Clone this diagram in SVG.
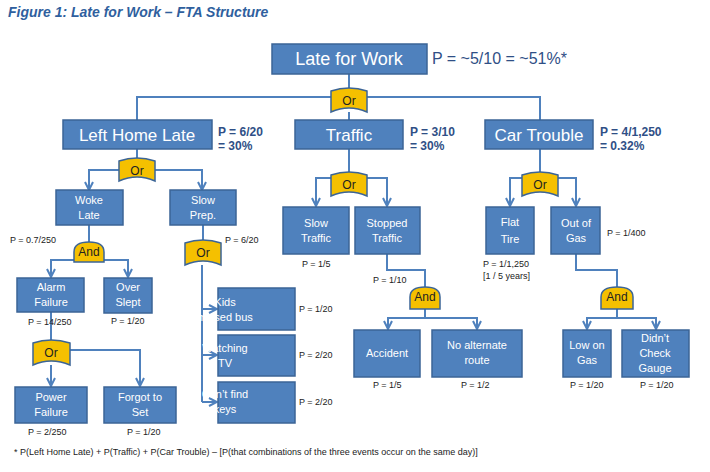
<svg xmlns="http://www.w3.org/2000/svg" width="710" height="472" viewBox="0 0 710 472">
<style>
.b{fill:#4f81bd;stroke:#3b6496;stroke-width:1.5}
.t{fill:#fff;font-family:"Liberation Sans",Arial,sans-serif;text-anchor:middle}
.g{fill:#f5c000;stroke:#3b6496;stroke-width:1.5}
.gt{fill:#222;font-family:"Liberation Sans",Arial,sans-serif;font-size:12px;text-anchor:middle}
.p{fill:#222;font-family:"Liberation Sans",Arial,sans-serif;font-size:9px}
.pb{fill:#2f4f86;font-family:"Liberation Sans",Arial,sans-serif;font-size:12px;font-weight:bold}
.c{fill:none;stroke:#4f81bd;stroke-width:2}
</style>
<defs><marker id="a" viewBox="0 0 10 10" refX="9" refY="5" markerWidth="5" markerHeight="5" orient="auto"><path d="M1,1 L9,5 L1,9" fill="none" stroke="#4f81bd" stroke-width="2"/></marker></defs>
<text x="8" y="17" font-family="Liberation Sans,Arial,sans-serif" font-size="14" font-style="italic" font-weight="bold" fill="#2f5f9e">Figure 1: Late for Work – FTA Structure</text>
<g id="connectors">
<path class="c" d="M349,74 V88 M137,120 V97 H540 V120 M349,112 V120"/>
<path class="c" d="M137,149 V158"/>
<path class="c" d="M119,170 H89 V190" marker-end="url(#a)"/><path class="c" d="M155,170 H202 V190" marker-end="url(#a)"/>
<path class="c" d="M89,225 V242"/>
<path class="c" d="M74,260 H51 V277" marker-end="url(#a)"/><path class="c" d="M104,260 H128 V277" marker-end="url(#a)"/>
<path class="c" d="M51,312 V340"/>
<path class="c" d="M51,365 V386" marker-end="url(#a)"/><path class="c" d="M70,350 H140 V386" marker-end="url(#a)"/>
<path class="c" d="M203,225 V240 M202,265 V402"/>
<path class="c" d="M202,309 H217" marker-end="url(#a)"/><path class="c" d="M202,355 H217" marker-end="url(#a)"/><path class="c" d="M202,402 H217" marker-end="url(#a)"/>
<path class="c" d="M349,149 V172"/>
<path class="c" d="M331,178 H316 V206" marker-end="url(#a)"/><path class="c" d="M367,178 H387 V206" marker-end="url(#a)"/>
<path class="c" d="M387,254 V270 H425 V287 M425,309 V318"/>
<path class="c" d="M425,318 H388 V329" marker-end="url(#a)"/><path class="c" d="M425,318 H477 V329" marker-end="url(#a)"/>
<path class="c" d="M540,149 V172"/>
<path class="c" d="M522,178 H510 V206" marker-end="url(#a)"/><path class="c" d="M558,178 H576 V206" marker-end="url(#a)"/>
<path class="c" d="M576,254 V270 H617 V287 M617,309 V318"/>
<path class="c" d="M617,318 H587 V329" marker-end="url(#a)"/><path class="c" d="M617,318 H656 V329" marker-end="url(#a)"/>
</g>
<g id="top"><rect class="b" x="272" y="44" width="155" height="30"/><text class="t" x="349" y="65" font-size="18">Late for Work</text><text x="432" y="64" font-family="Liberation Sans,Arial,sans-serif" font-size="16" fill="#2f4f86">P = ~5/10 = ~51%*</text></g>
<g id="g1"><path class="g" d="M331,91 Q349,85 367,91 V112 Q349,104 331,112 Z"/><text class="gt" x="349" y="105">Or</text></g>
<g id="lhl"><rect class="b" x="63" y="120" width="149" height="29"/><text class="t" x="137" y="141" font-size="17">Left Home Late</text><text class="pb" x="218" y="136">P = 6/20</text><text class="pb" x="218" y="150">= 30%</text></g>
<g id="traffic"><rect class="b" x="295" y="120" width="108" height="29"/><text class="t" x="349" y="141" font-size="17">Traffic</text><text class="pb" x="410" y="136">P = 3/10</text><text class="pb" x="410" y="150">= 30%</text></g>
<g id="car"><rect class="b" x="485" y="120" width="108" height="29"/><text class="t" x="539" y="141" font-size="17">Car Trouble</text><text class="pb" x="600" y="136">P = 4/1,250</text><text class="pb" x="600" y="150">= 0.32%</text></g>
<g id="g2"><path class="g" d="M119,161 Q137,155 155,161 V181 Q137,173 119,181 Z"/><text class="gt" x="137" y="175">Or</text></g>
<g id="woke"><rect class="b" x="56" y="190" width="67" height="35"/><text class="t" x="89" y="204" font-size="11">Woke</text><text class="t" x="89" y="219" font-size="11">Late</text><text class="p" x="10" y="243">P = 0.7/250</text></g>
<g id="slow"><rect class="b" x="170" y="190" width="66" height="35"/><text class="t" x="203" y="204" font-size="11">Slow</text><text class="t" x="203" y="219" font-size="11">Prep.</text><text class="p" x="225" y="243">P = 6/20</text></g>
<g id="g3"><path class="g" d="M74,262 V252 Q74,242 89,242 Q104,242 104,252 V262 Z"/><text class="gt" x="89" y="256">And</text></g>
<g id="alarm"><rect class="b" x="17" y="278" width="67" height="34"/><text class="t" x="51" y="291" font-size="11">Alarm</text><text class="t" x="51" y="306" font-size="11">Failure</text><text class="p" x="28" y="325">P = 14/250</text></g>
<g id="over"><rect class="b" x="104" y="278" width="48" height="35"/><text class="t" x="128" y="291" font-size="11">Over</text><text class="t" x="128" y="306" font-size="11">Slept</text><text class="p" x="111" y="324">P = 1/20</text></g>
<g id="g4"><path class="g" d="M33,343 Q51,337 70,343 V365 Q51,357 33,365 Z"/><text class="gt" x="51" y="357">Or</text></g>
<g id="power"><rect class="b" x="15" y="387" width="72" height="36"/><text class="t" x="51" y="401" font-size="11">Power</text><text class="t" x="51" y="416" font-size="11">Failure</text><text class="p" x="28" y="435">P = 2/250</text></g>
<g id="forgot"><rect class="b" x="104" y="387" width="72" height="36"/><text class="t" x="140" y="401" font-size="11">Forgot to</text><text class="t" x="140" y="416" font-size="11">Set</text><text class="p" x="127" y="435">P = 1/20</text></g>
<g id="g5"><path class="g" d="M185,243 Q203,237 221,243 V265 Q203,257 185,265 Z"/><text class="gt" x="203" y="257">Or</text></g>
<g id="kids"><rect class="b" x="218" y="288" width="77" height="42"/><text class="t" x="225" y="306" font-size="11" text-anchor="start">Kids</text><text class="t" x="225" y="321" font-size="11" text-anchor="start">missed bus</text><text class="p" x="299" y="312">P = 1/20</text></g>
<g id="tv"><rect class="b" x="218" y="335" width="77" height="41"/><text class="t" x="225" y="352" font-size="11" text-anchor="start">Watching</text><text class="t" x="225" y="367" font-size="11" text-anchor="start">TV</text><text class="p" x="299" y="358">P = 2/20</text></g>
<g id="keys"><rect class="b" x="218" y="382" width="77" height="41"/><text class="t" x="225" y="398" font-size="11" text-anchor="start">Can’t find</text><text class="t" x="225" y="413" font-size="11" text-anchor="start">keys</text><text class="p" x="299" y="405">P = 2/20</text></g>
<g id="g6"><path class="g" d="M331,175 Q349,169 367,175 V196 Q349,188 331,196 Z"/><text class="gt" x="349" y="189">Or</text></g>
<g id="slowt"><rect class="b" x="283" y="207" width="66" height="47"/><text class="t" x="316" y="227" font-size="11">Slow</text><text class="t" x="316" y="242" font-size="11">Traffic</text><text class="p" x="302" y="267">P = 1/5</text></g>
<g id="stopped"><rect class="b" x="355" y="207" width="65" height="47"/><text class="t" x="387" y="227" font-size="11">Stopped</text><text class="t" x="387" y="242" font-size="11">Traffic</text><text class="p" x="373" y="283">P = 1/10</text></g>
<g id="g7"><path class="g" d="M410,309 V297 Q410,287 425,287 Q440,287 440,297 V309 Z"/><text class="gt" x="425" y="301">And</text></g>
<g id="accident"><rect class="b" x="354" y="330" width="66" height="47"/><text class="t" x="387" y="357" font-size="11">Accident</text><text class="p" x="373" y="388">P = 1/5</text></g>
<g id="noalt"><rect class="b" x="432" y="330" width="90" height="47"/><text class="t" x="477" y="349" font-size="11">No alternate</text><text class="t" x="477" y="364" font-size="11">route</text><text class="p" x="461" y="388">P = 1/2</text></g>
<g id="g8"><path class="g" d="M522,175 Q540,169 558,175 V196 Q540,188 522,196 Z"/><text class="gt" x="540" y="189">Or</text></g>
<g id="flat"><rect class="b" x="486" y="207" width="48" height="47"/><text class="t" x="510" y="226" font-size="11">Flat</text><text class="t" x="510" y="243" font-size="11">Tire</text><text class="p" x="483" y="267">P = 1/1,250</text><text class="p" x="483" y="279">[1 / 5 years]</text></g>
<g id="outgas"><rect class="b" x="551" y="207" width="49" height="47"/><text class="t" x="576" y="227" font-size="11">Out of</text><text class="t" x="576" y="242" font-size="11">Gas</text><text class="p" x="607" y="236">P = 1/400</text></g>
<g id="g9"><path class="g" d="M601,309 V297 Q601,287 617,287 Q633,287 633,297 V309 Z"/><text class="gt" x="617" y="301">And</text></g>
<g id="low"><rect class="b" x="563" y="330" width="48" height="47"/><text class="t" x="587" y="349" font-size="11">Low on</text><text class="t" x="587" y="364" font-size="11">Gas</text><text class="p" x="570" y="388">P = 1/20</text></g>
<g id="gauge"><rect class="b" x="622" y="330" width="67" height="47"/><text class="t" x="655" y="342" font-size="11">Didn’t</text><text class="t" x="655" y="357" font-size="11">Check</text><text class="t" x="655" y="372" font-size="11">Gauge</text><text class="p" x="640" y="388">P = 1/20</text></g>
<text x="14" y="455" font-family="Liberation Sans,Arial,sans-serif" font-size="9" fill="#222">* P(Left Home Late) + P(Traffic) + P(Car Trouble) – [P(that combinations of the three events occur on the same day)]</text>
</svg>
